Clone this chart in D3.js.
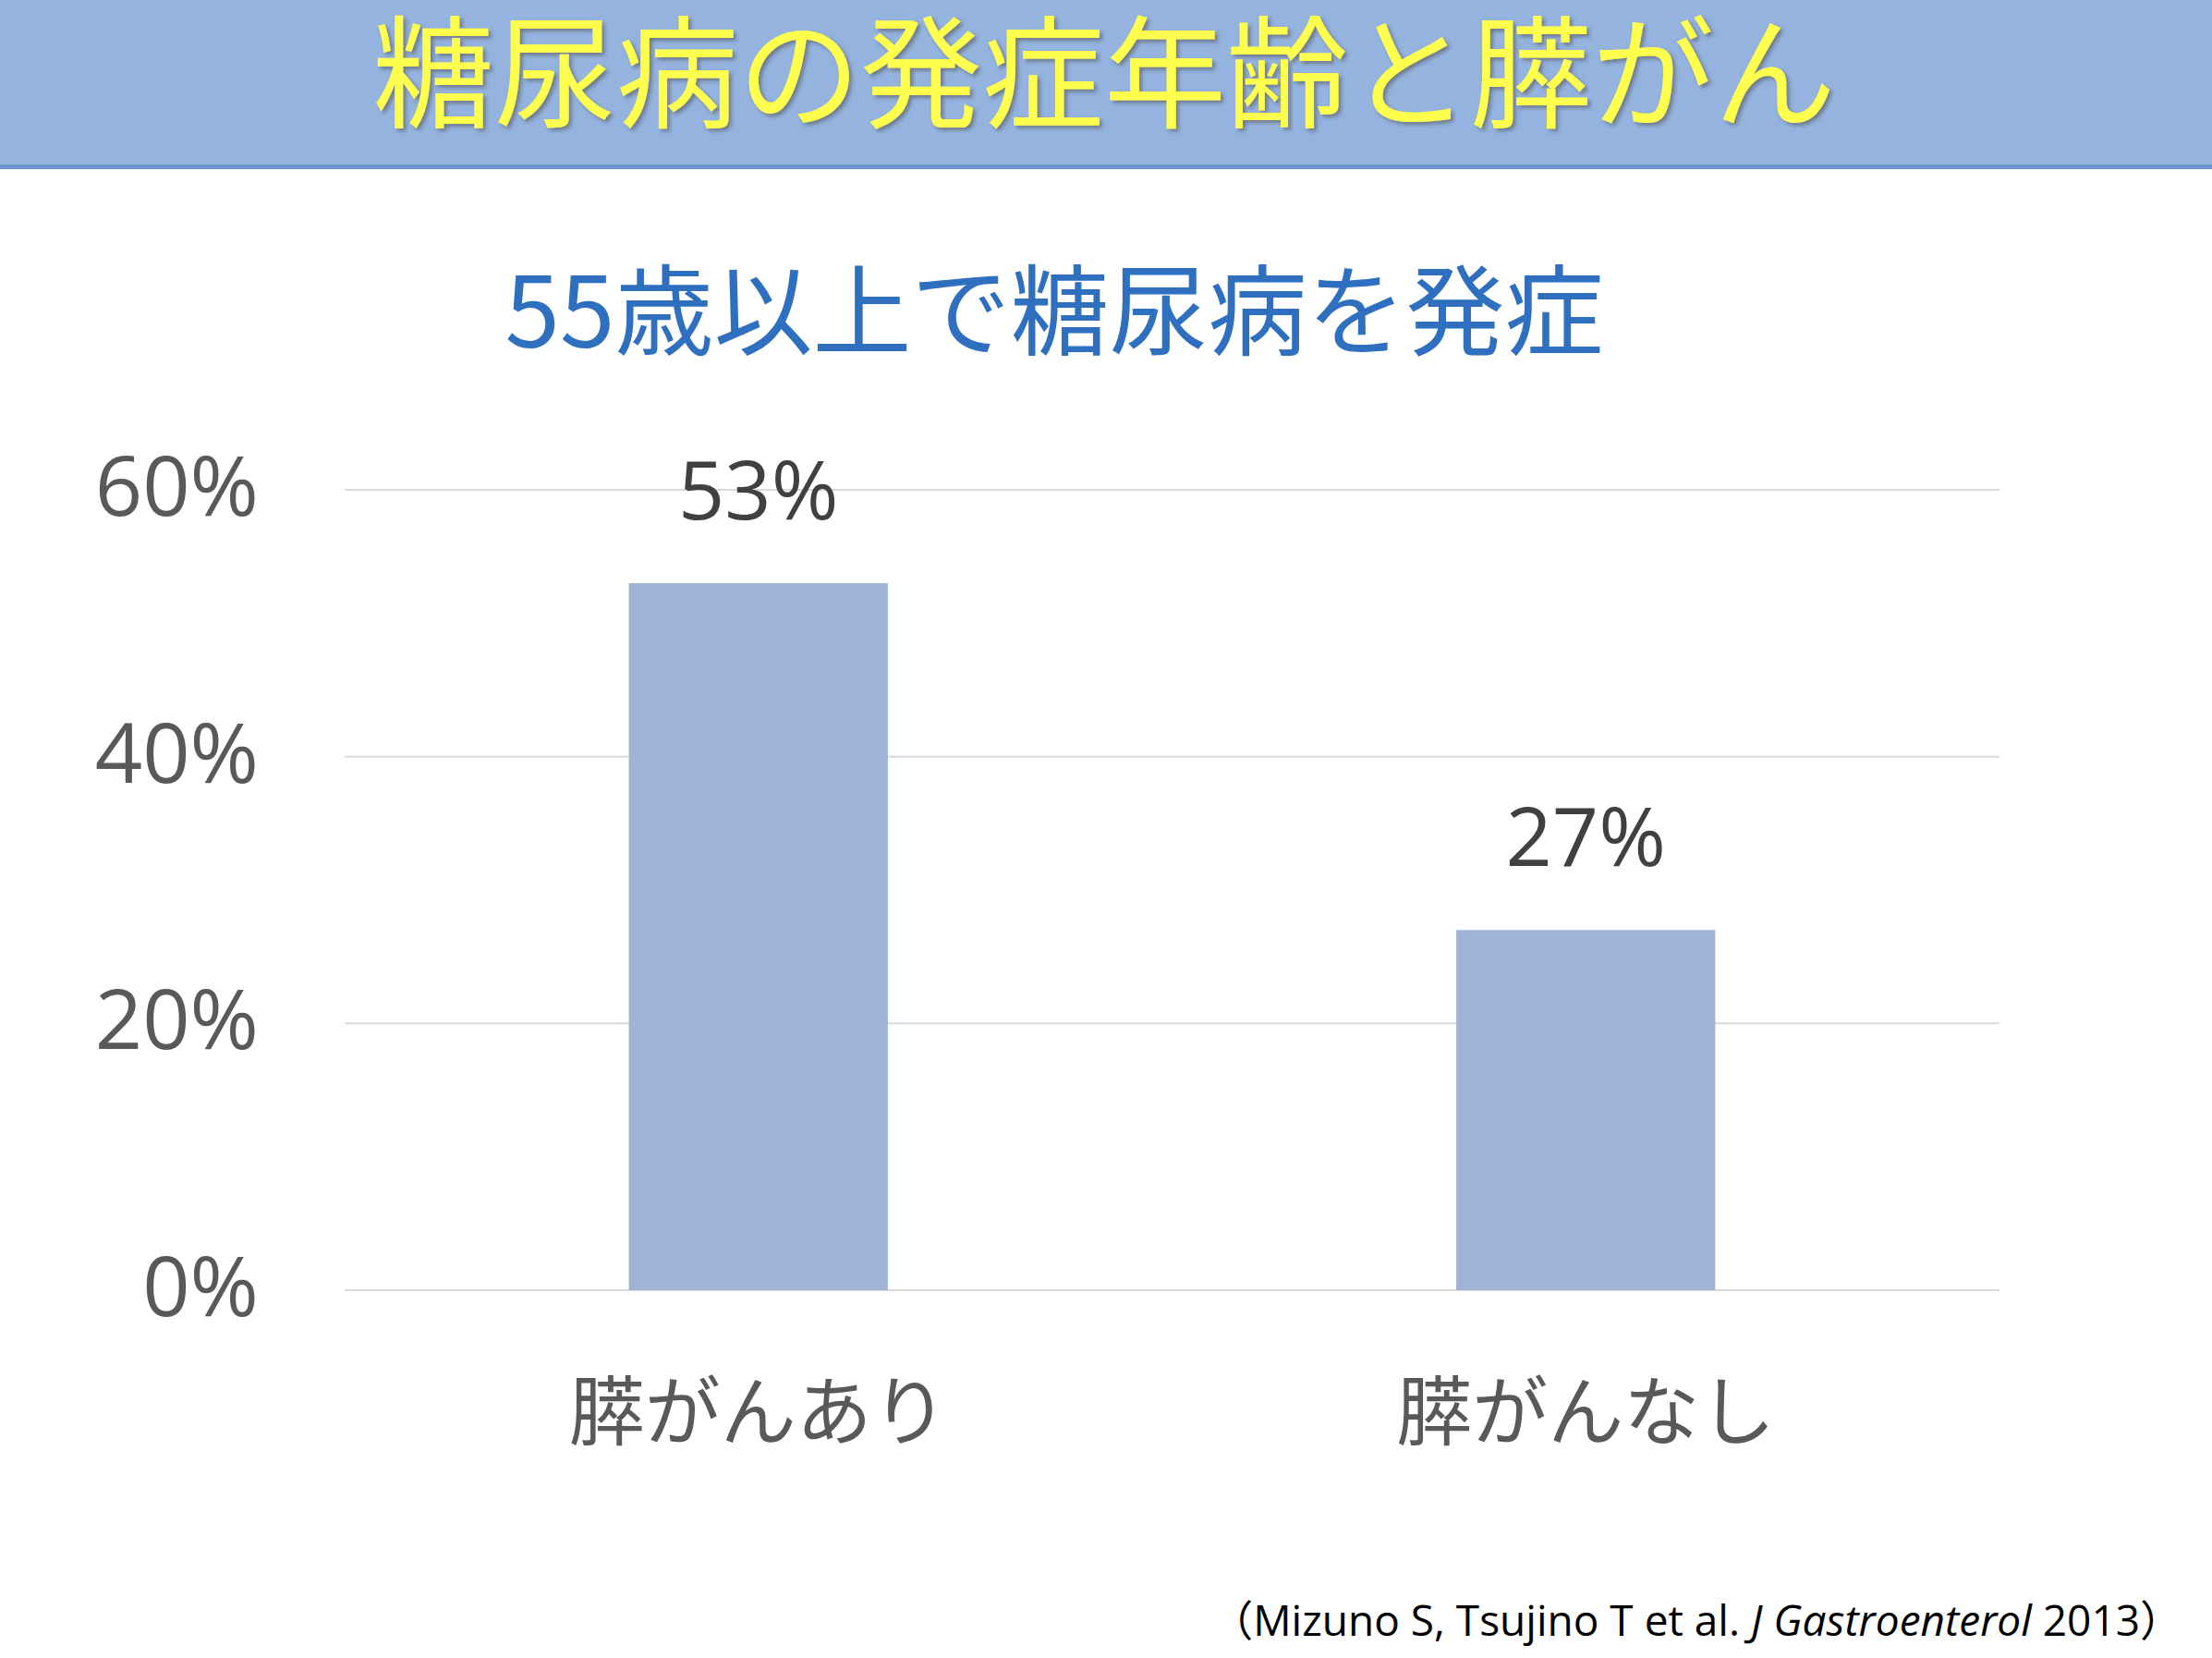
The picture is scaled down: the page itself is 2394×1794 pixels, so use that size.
<!DOCTYPE html>
<html><head><meta charset="utf-8">
<script src="https://cdn.jsdelivr.net/npm/d3@7"></script>
<style>body{margin:0;background:#fff}</style>
</head><body>
<svg id="c" width="2394" height="1794"></svg>
<script>
const categories = ['膵がんあり', '膵がんなし'];
const values = [53, 27];
const ticks = [0, 20, 40, 60];

const W = 2394, H = 1794;
const svg = d3.select('#c');
const jp = '"Noto Sans CJK JP", sans-serif';

// header band
svg.append('rect').attr('x', 0).attr('y', 0).attr('width', W).attr('height', 180).attr('fill', '#94b3df');
svg.append('rect').attr('x', 0).attr('y', 178).attr('width', W).attr('height', 5).attr('fill', '#6f95cf');
const defs = svg.append('defs');
const f = defs.append('filter').attr('id', 'sh');
f.append('feDropShadow').attr('dx', 3).attr('dy', 3).attr('stdDeviation', 2).attr('flood-color', '#555').attr('flood-opacity', 0.6);
svg.append('text').attr('x', 1195).attr('y', 128).attr('text-anchor', 'middle')
  .attr('font-family', jp).attr('font-size', 132).attr('font-weight', 400)
  .attr('fill', '#ffff4d').attr('filter', 'url(#sh)').text('糖尿病の発症年齢と膵がん');

svg.append('text').attr('x', 1141).attr('y', 376).attr('text-anchor', 'middle')
  .attr('font-family', jp).attr('font-size', 107).attr('fill', '#2f6fbf').text('55歳以上で糖尿病を発症');

const x = d3.scaleBand().domain(categories).range([373, 2164]).paddingInner(0.687).paddingOuter(0.3435);
const y = d3.scaleLinear().domain([0, 60]).range([1396, 530]);

const g = svg.append('g');
g.selectAll('line.grid').data(ticks).join('line')
  .attr('x1', 373).attr('x2', 2164).attr('y1', d => y(d)).attr('y2', d => y(d))
  .attr('stroke', '#d9d9d9').attr('stroke-width', 2);
g.selectAll('text.tick').data(ticks).join('text')
  .attr('x', 280).attr('y', d => y(d) + 28).attr('text-anchor', 'end')
  .attr('font-family', '"Open Sans", sans-serif').attr('font-size', 90).attr('fill', '#595959')
  .text(d => d + '%');

g.selectAll('rect.bar').data(values).join('rect')
  .attr('x', (d, i) => x(categories[i])).attr('width', x.bandwidth())
  .attr('y', d => y(d)).attr('height', d => y(0) - y(d)).attr('fill', '#9fb3d5');
g.selectAll('text.val').data(values).join('text')
  .attr('x', (d, i) => x(categories[i]) + x.bandwidth() / 2).attr('y', d => y(d) - 69)
  .attr('text-anchor', 'middle').attr('font-family', '"Open Sans", sans-serif')
  .attr('font-size', 88).attr('fill', '#404040').text(d => d + '%');
g.selectAll('text.cat').data(categories).join('text')
  .attr('x', d => x(d) + x.bandwidth() / 2).attr('y', 1557)
  .attr('text-anchor', 'middle').attr('font-family', jp)
  .attr('font-size', 82).attr('fill', '#595959').text(d => d);

const cit = svg.append('text').attr('x', 2362).attr('y', 1770).attr('text-anchor', 'end')
  .attr('font-family', '"Open Sans", sans-serif').attr('font-size', 46).attr('fill', '#000');
cit.append('tspan').attr('font-family', jp).text('（');
cit.append('tspan').text('Mizuno S, Tsujino T et al. ');
cit.append('tspan').attr('font-style', 'italic').text('J Gastroenterol');
cit.append('tspan').text(' 2013');
cit.append('tspan').attr('font-family', jp).text('）');
</script>
</body></html>
